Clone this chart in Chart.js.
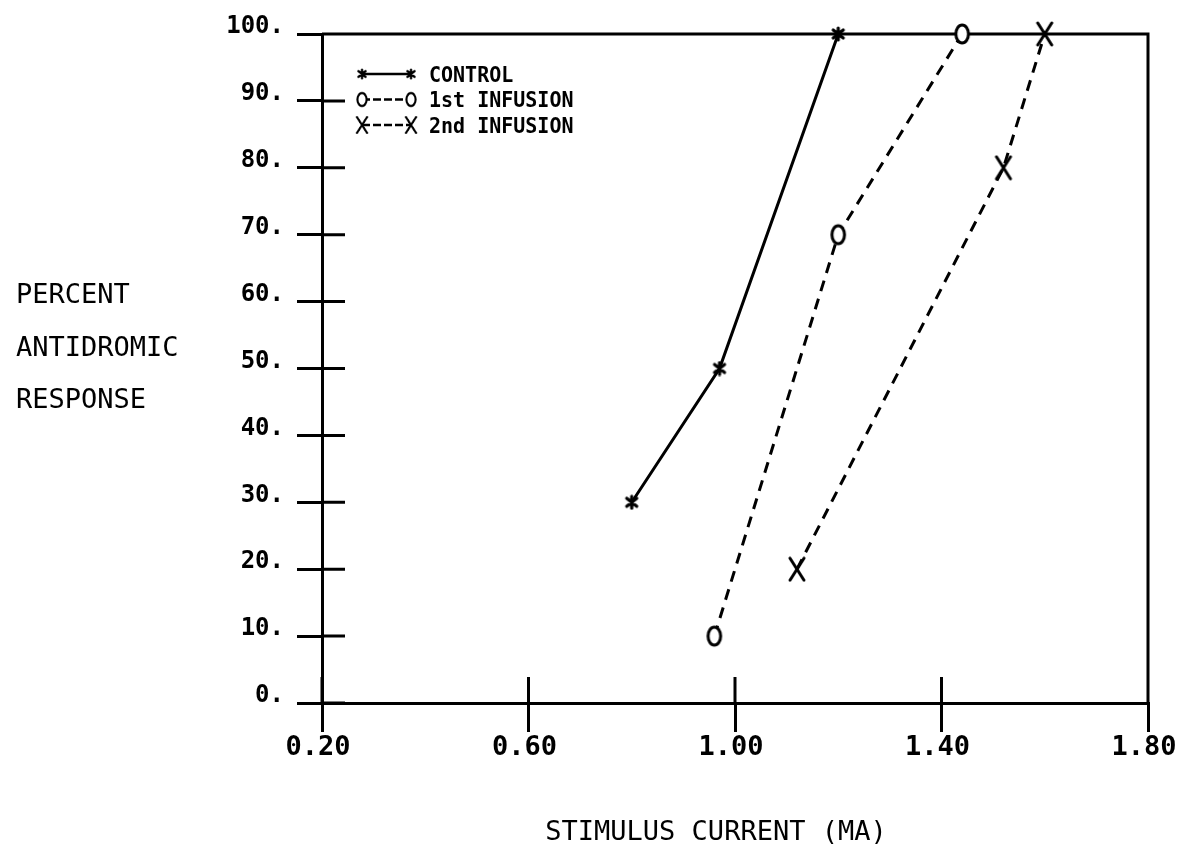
<!DOCTYPE html>
<html>
<head>
<meta charset="utf-8">
<script src="https://cdn.jsdelivr.net/npm/chart.js@4.4.1/dist/chart.umd.min.js"></script>
<style>
  html, body { margin: 0; padding: 0; background: #fff; }
  #wrap { width: 1177px; height: 845px; position: relative; }
</style>
</head>
<body>
<div id="wrap"><canvas id="chart"></canvas></div>
<script>
// tick values
const xTicks = [0.20, 0.60, 1.00, 1.40, 1.80];
const yTicks = [0, 10, 20, 30, 40, 50, 60, 70, 80, 90, 100];

// series
const controlX = [0.80, 0.97, 1.20];
const controlY = [30, 50, 100];
const infusion1X = [0.96, 1.20, 1.44];
const infusion1Y = [10, 70, 100];
const infusion2X = [1.12, 1.52, 1.60];
const infusion2Y = [20, 80, 100];

const seriesLabels = ['CONTROL', '1st INFUSION', '2nd INFUSION'];
const yTitleLines = ['PERCENT', 'ANTIDROMIC', 'RESPONSE'];
const xTitle = 'STIMULUS CURRENT (MA)';

const INK = '#000';

// plotter-like markers
function makeAsterisk() {
  const c = document.createElement('canvas');
  c.width = 16; c.height = 16;
  const g = c.getContext('2d');
  g.strokeStyle = INK; g.lineWidth = 3.2; g.lineCap = 'round';
  g.beginPath();
  g.moveTo(8, 2); g.lineTo(8, 14);
  g.moveTo(3, 4); g.lineTo(13, 12);
  g.moveTo(3, 12); g.lineTo(13, 4);
  g.stroke();
  return c;
}
function makeO() {
  const c = document.createElement('canvas');
  c.width = 20; c.height = 26;
  const g = c.getContext('2d');
  g.beginPath();
  g.ellipse(10, 13, 6.3, 9, 0, 0, Math.PI * 2);
  g.fillStyle = '#fff'; g.fill();
  g.strokeStyle = INK; g.lineWidth = 3; g.stroke();
  return c;
}
function makeX() {
  const c = document.createElement('canvas');
  c.width = 20; c.height = 26;
  const g = c.getContext('2d');
  g.strokeStyle = INK; g.lineWidth = 3; g.lineCap = 'round';
  g.beginPath();
  g.moveTo(3, 2); g.lineTo(17, 24);
  g.moveTo(17, 2); g.lineTo(3, 24);
  g.stroke();
  return c;
}
const markers = [makeAsterisk(), makeO(), makeX()];
const dashes = [[], [11, 8], [11, 8]];
const legendDashes = [[], [8, 3], [8, 3]];

function pts(xs, ys) {
  return xs.map((x, i) => ({ x: x, y: ys[i] }));
}

const frameAndText = {
  id: 'frameAndText',
  beforeDatasetsDraw(chart) {
    const { ctx, chartArea: a, scales: { x, y } } = chart;
    ctx.save();
    ctx.strokeStyle = INK;
    ctx.lineWidth = 3;
    ctx.beginPath();
    // top and right sides of the frame
    ctx.moveTo(a.left, a.top); ctx.lineTo(a.right, a.top); ctx.lineTo(a.right, a.bottom);
    // inner halves of the ticks
    yTicks.forEach(v => {
      const py = y.getPixelForValue(v);
      ctx.moveTo(a.left, py); ctx.lineTo(a.left + 23, py);
    });
    xTicks.forEach(v => {
      const px = x.getPixelForValue(v);
      ctx.moveTo(px, a.bottom); ctx.lineTo(px, a.bottom - 26);
    });
    ctx.stroke();
    ctx.restore();
  },
  afterDraw(chart) {
    const { ctx, chartArea: a } = chart;
    ctx.save();
    ctx.fillStyle = INK;
    ctx.textBaseline = 'alphabetic';
    ctx.font = '27px "DejaVu Sans Mono", monospace';
    yTitleLines.forEach((t, i) => ctx.fillText(t, 16, 303 + i * 52.5));
    ctx.textAlign = 'center';
    ctx.fillText(xTitle, 716, 840);

    // legend inside the plot
    ctx.textAlign = 'left';
    ctx.textBaseline = 'alphabetic';
    ctx.font = 'bold 20px "DejaVu Sans Mono", monospace';
    chart.data.datasets.forEach((ds, i) => {
      const ry = a.top + 40 + i * 25.5;
      const x1 = a.left + 40, x2 = a.left + 89;
      ctx.strokeStyle = INK; ctx.lineWidth = 2.5;
      ctx.setLineDash(legendDashes[i]);
      ctx.beginPath(); ctx.moveTo(x1, ry); ctx.lineTo(x2, ry); ctx.stroke();
      ctx.setLineDash([]);
      const m = markers[i];
      const s = 0.72;
      ctx.drawImage(m, x1 - m.width * s / 2, ry - m.height * s / 2, m.width * s, m.height * s);
      ctx.drawImage(m, x2 - m.width * s / 2, ry - m.height * s / 2, m.width * s, m.height * s);
      ctx.save();
      ctx.translate(a.left + 107, ry + 7.5);
      ctx.scale(1, 1.05);
      ctx.fillText(ds.label, 0, 0);
      ctx.restore();
    });
    ctx.restore();
  }
};

const datasets = [
  pts(controlX, controlY),
  pts(infusion1X, infusion1Y),
  pts(infusion2X, infusion2Y)
].map((d, i) => ({
  label: seriesLabels[i],
  data: d,
  borderColor: INK,
  backgroundColor: INK,
  borderWidth: 3,
  borderDash: dashes[i],
  pointStyle: markers[i],
  pointRadius: 8,
  pointHoverRadius: 8,
  tension: 0,
  clip: false
}));

new Chart(document.getElementById('chart'), {
  type: 'line',
  data: { datasets: datasets },
  options: {
    responsive: true,
    maintainAspectRatio: false,
    animation: false,
    layout: { padding: { top: 34, right: 29, left: 0, bottom: 0 } },
    plugins: { legend: { display: false }, tooltip: { enabled: false } },
    scales: {
      x: {
        type: 'linear',
        min: 0.2,
        max: 1.8,
        afterBuildTicks: s => { s.ticks = xTicks.map(v => ({ value: v })); },
        afterFit: s => { s.height = 142; s.paddingRight = 0; s.paddingLeft = 0; },
        grid: { drawOnChartArea: false, tickLength: 29, lineWidth: 3, color: INK },
        border: { display: true, width: 3, color: INK },
        ticks: {
          color: INK, padding: 0, autoSkip: false, maxRotation: 0, labelOffset: -4,
          font: { family: '"DejaVu Sans Mono", monospace', size: 27, weight: 'bold' },
          callback: v => Number(v).toFixed(2)
        }
      },
      y: {
        type: 'linear',
        min: 0,
        max: 100,
        afterBuildTicks: s => { s.ticks = yTicks.map(v => ({ value: v })); },
        afterFit: s => { s.width = 322; },
        grid: { drawOnChartArea: false, tickLength: 25, lineWidth: 3, color: INK },
        border: { display: true, width: 3, color: INK },
        ticks: {
          color: INK, padding: 13, autoSkip: false, labelOffset: -7,
          font: { family: '"DejaVu Sans Mono", monospace', size: 24, weight: 'bold' },
          callback: v => v + '.'
        }
      }
    }
  },
  plugins: [frameAndText]
});
</script>
</body>
</html>
